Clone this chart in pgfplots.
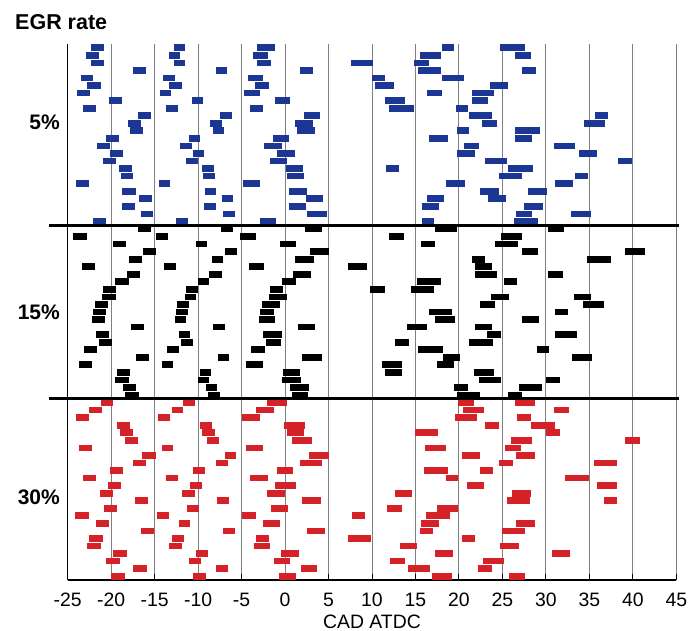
\documentclass[border=0pt]{standalone}
\usepackage{fontspec}
\setmainfont{Liberation Sans}
\usepackage{pgfplots}
\usepackage{pgfplotstable}
\pgfplotsset{compat=1.18}

\definecolor{egrblue}{RGB}{28,54,148}
\definecolor{egrred}{RGB}{212,34,40}
\definecolor{gridgray}{RGB}{128,128,128}

% Injection windows: row index y, start a and end b (CAD ATDC)
\pgfplotstableread{
y a b
71 -22.3 -20.8
71 -12.8 -11.5
71 -3.2 -1.2
71 18.1 19.4
71 24.7 27.6
70 -22.9 -21.4
70 -13.4 -12.05
70 -3.7 -2.0
70 15.5 17.9
70 26.5 28.3
69 -22.3 -20.8
69 -12.8 -11.5
69 -3.2 -1.6
69 7.6 10.1
69 14.85 16.5
68 -17.5 -16.0
68 -8.0 -6.7
68 1.7 3.2
68 15.3 17.95
68 27.3 28.9
67 -23.5 -22.05
67 -14.0 -12.7
67 -4.3 -2.5
67 10.0 11.5
67 18.1 20.6
66 -22.8 -21.2
66 -13.3 -11.9
66 -3.5 -1.8
66 10.4 12.5
66 23.6 25.6
65 -23.9 -22.4
65 -14.4 -13.1
65 -4.7 -2.9
65 16.3 18.1
65 21.5 24.0
64 -20.25 -18.75
64 -10.7 -9.4
64 -1.1 0.6
64 11.5 13.8
64 21.45 23.3
63 -23.2 -21.7
63 -13.7 -12.35
63 -4.0 -2.5
63 12.0 14.8
63 19.7 21.0
62 -16.95 -15.4
62 -7.45 -6.1
62 2.2 4.0
62 21.2 23.8
62 35.6 37.1
61 -18.1 -16.6
61 -8.6 -7.2
61 1.1 3.2
61 22.7 24.4
61 34.4 36.8
60 -17.8 -16.3
60 -8.3 -7.0
60 1.4 3.4
60 19.75 21.1
60 26.5 29.3
59 -20.55 -19.1
59 -11.05 -9.75
59 -1.4 0.4
59 16.5 18.7
59 26.5 28.4
58 -21.6 -20.1
58 -12.1 -10.75
58 -2.4 -0.4
58 20.6 22.25
58 30.9 33.4
57 -20.1 -18.6
57 -10.6 -9.3
57 -0.9 1.1
57 19.8 21.8
57 33.8 35.9
56 -20.9 -19.4
56 -11.4 -10.05
56 -1.7 0.2
56 23.05 25.5
56 38.3 39.95
55 -19.1 -17.6
55 -9.6 -8.2
55 0.1 2.05
55 11.6 13.05
55 25.7 28.5
54 -18.9 -17.45
54 -9.4 -8.1
54 0.25 2.2
54 24.55 27.3
54 33.4 34.8
53 -24.0 -22.5
53 -14.5 -13.2
53 -4.8 -2.85
53 18.5 20.7
53 31.1 33.1
52 -18.7 -17.2
52 -9.2 -7.9
52 0.5 2.55
52 22.4 24.55
52 27.9 30.1
51 -16.8 -15.3
51 -7.3 -6.0
51 2.4 4.4
51 16.3 18.3
51 23.3 25.4
50 -18.8 -17.3
50 -9.3 -8.0
50 0.4 2.4
50 15.8 17.7
50 27.5 29.7
49 -16.6 -15.15
49 -7.1 -5.8
49 2.55 4.8
49 26.6 28.4
49 32.9 35.2
48 -22.1 -20.55
48 -12.6 -11.2
48 -2.9 -1.05
48 15.7 17.15
48 26.3 29.1
}\egrfive

\pgfplotstableread{
y a b
47 -16.9 -15.4
47 -7.4 -6.0
47 2.3 4.2
47 17.3 19.8
47 30.3 32.1
46 -24.4 -22.8
46 -14.8 -13.5
46 -5.15 -3.3
46 11.9 13.7
46 24.85 27.3
45 -19.8 -18.3
45 -10.3 -9.0
45 -0.6 1.3
45 15.65 17.3
45 24.2 26.8
44 -16.3 -14.8
44 -6.9 -5.5
44 2.85 5.1
44 27.3 29.1
44 39.1 41.4
43 -18.0 -16.45
43 -8.45 -7.1
43 1.2 3.35
43 21.55 23.0
43 34.7 37.5
42 -23.4 -21.9
42 -13.9 -12.5
42 -4.2 -2.4
42 7.2 9.4
42 21.8 23.8
41 -18.2 -16.7
41 -8.7 -7.3
41 0.9 3.0
41 21.8 24.4
41 30.3 32.0
40 -19.6 -18.0
40 -10.05 -8.7
40 -0.36 1.3
40 15.15 17.9
40 25.2 26.7
39 -20.9 -19.4
39 -11.4 -10.05
39 -1.7 -0.2
39 9.8 11.5
39 14.5 17.1
38 -21.0 -19.5
38 -11.5 -10.2
38 -1.8 0.2
38 23.7 25.8
38 33.2 35.2
37 -21.9 -20.4
37 -12.4 -11.05
37 -2.7 -0.6
37 22.4 24.2
37 34.3 36.7
36 -22.1 -20.55
36 -12.6 -11.2
36 -2.9 -1.3
36 16.5 19.25
36 31.1 32.55
35 -22.2 -20.7
35 -12.7 -11.4
35 -3.0 -1.2
35 17.2 19.6
35 27.3 29.2
34 -17.7 -16.2
34 -8.25 -6.9
34 1.5 3.4
34 14.0 16.3
34 21.9 23.8
33 -21.7 -20.2
33 -12.2 -10.9
33 -2.5 -0.3
33 23.2 24.8
33 31.0 33.6
32 -21.4 -19.9
32 -12.0 -10.6
32 -2.2 -0.5
32 12.7 14.2
32 21.2 23.9
31 -23.1 -21.6
31 -13.6 -12.2
31 -3.9 -2.3
31 15.3 18.2
31 29.0 30.4
30 -17.2 -15.7
30 -7.7 -6.4
30 2.0 4.2
30 18.2 20.1
30 33.0 35.3
29 -23.7 -22.2
29 -14.2 -12.85
29 -4.5 -2.5
29 11.2 13.4
29 17.45 19.4
28 -19.3 -17.8
28 -9.8 -8.5
28 -0.2 1.7
28 11.5 13.4
28 21.75 24.05
27 -19.6 -18.0
27 -10.05 -8.7
27 -0.3 1.8
27 22.25 24.85
27 30.0 31.6
26 -18.6 -17.1
26 -9.1 -7.8
26 0.6 2.7
26 19.4 21.05
26 26.9 29.6
25 -18.4 -16.8
25 -8.9 -7.5
25 0.8 2.6
25 19.8 22.4
25 25.6 27.3
}\egrfifteen

\pgfplotstableread{
y a b
24 -21.2 -19.8
24 -11.7 -10.4
24 -2.1 0.2
24 19.9 21.7
24 26.4 28.8
23 -22.5 -21.0
23 -13.0 -11.7
23 -3.3 -1.3
23 20.5 22.9
23 30.95 32.7
22 -24.1 -22.5
22 -14.6 -13.2
22 -4.9 -2.85
22 19.5 22.1
22 26.65 28.3
21 -19.3 -17.8
21 -9.8 -8.4
21 -0.1 2.3
21 23.05 24.55
21 28.3 31.0
20 -19.0 -17.45
20 -9.5 -8.1
20 0.25 2.2
20 14.9 17.6
20 30.0 31.6
19 -18.45 -16.95
19 -9.0 -7.6
19 0.75 3.1
19 26.0 28.4
19 39.1 40.8
18 -23.7 -22.2
18 -14.2 -12.85
18 -4.5 -2.5
18 16.15 18.5
18 25.3 27.1
17 -16.45 -14.9
17 -6.95 -5.6
17 2.7 5.0
17 20.4 22.4
17 26.6 28.8
16 -17.5 -15.95
16 -8.0 -6.6
16 1.7 4.3
16 24.6 26.2
16 35.5 38.2
15 -20.1 -18.6
15 -10.6 -9.25
15 -0.9 0.9
15 16.0 18.7
15 22.4 23.9
14 -23.2 -21.7
14 -13.7 -12.35
14 -4.0 -1.95
14 18.5 19.9
14 32.2 35.0
13 -20.4 -18.9
13 -10.9 -9.5
13 -1.1 1.3
13 20.9 22.9
13 35.9 38.2
12 -21.3 -19.8
12 -11.8 -10.4
12 -2.1 0.0
12 12.6 14.6
12 26.1 28.3
11 -17.3 -15.8
11 -7.8 -6.4
11 1.9 4.1
11 25.5 28.15
11 36.65 38.2
10 -20.8 -19.3
10 -11.3 -9.9
10 -1.6 0.3
10 11.7 13.4
10 17.45 19.9
9 -24.2 -22.6
9 -14.7 -13.3
9 -5.0 -3.3
9 7.7 9.2
9 16.2 18.95
8 -21.7 -20.2
8 -12.2 -10.9
8 -2.5 -0.6
8 15.6 17.7
8 26.6 28.7
7 -16.6 -15.1
7 -7.1 -5.7
7 2.55 4.65
7 15.5 17.0
7 24.9 27.6
6 -22.5 -20.9
6 -13.0 -11.6
6 -3.3 -1.9
6 7.2 9.9
6 20.4 21.9
5 -22.8 -21.2
5 -13.3 -11.9
5 -3.6 -1.7
5 13.2 15.15
5 24.7 26.9
4 -19.75 -18.2
4 -10.25 -8.9
4 -0.5 1.55
4 17.2 19.3
4 30.75 32.8
3 -20.55 -19.0
3 -11.05 -9.7
3 -1.3 0.6
3 12.1 13.8
3 22.75 25.2
2 -17.45 -15.9
2 -7.95 -6.6
2 1.8 3.7
2 14.1 16.7
2 22.2 23.8
1 -20.05 -18.45
1 -10.55 -9.1
1 -0.75 1.25
1 16.9 19.2
1 25.7 27.6
}\egrthirty

% each window is drawn as a thick horizontal error bar around its midpoint
\pgfplotsset{
  window/.style={
    draw=none, mark=none, forget plot,
    error bars/.cd, x dir=both, x explicit, error mark=none,
    error bar style={draw=#1, line width=6.7bp, line cap=butt}
  }
}

\begin{document}
\begin{tikzpicture}
\begin{axis}[
  at={(0,0)}, anchor=south west,
  scale only axis, width=608.6bp, height=536bp,
  xmin=-25, xmax=45, ymin=0.5, ymax=71.5,
  axis x line*=bottom, axis y line*=left,
  x axis line style={line width=1.4bp},
  y axis line style={line width=0.9bp},
  xtick={-25,-20,...,45},
  /pgf/number format/assume math mode=true,
  xmajorgrids, grid style={gridgray, line width=0.9bp},
  tick align=inside, major tick length=6bp,
  x tick style={black, line width=1bp},
  xticklabel style={font=\fontsize{19.4bp}{22bp}\selectfont, anchor=base, inner sep=0pt, yshift=-26bp},
  xlabel={CAD ATDC},
  xlabel style={at={(rel axis cs:0.5,0)}, anchor=base, inner sep=0pt, yshift=-48bp, font=\fontsize{19.4bp}{22bp}\selectfont},
  ytick={11.49,35.98,61.15},
  yticklabels={30\%,15\%,5\%},
  y tick style={draw=none},
  yticklabel style={font=\bfseries\fontsize{21bp}{24bp}\selectfont, anchor=east, inner sep=0pt, xshift=-7.7bp},
  clip=false,
]
\addplot[window={egrblue}] table[x expr={(\thisrow{a}+\thisrow{b})/2}, y=y, x error expr={(\thisrow{b}-\thisrow{a})/2}] {\egrfive};
\addplot[window={black}] table[x expr={(\thisrow{a}+\thisrow{b})/2}, y=y, x error expr={(\thisrow{b}-\thisrow{a})/2}] {\egrfifteen};
\addplot[window={egrred}] table[x expr={(\thisrow{a}+\thisrow{b})/2}, y=y, x error expr={(\thisrow{b}-\thisrow{a})/2}] {\egrthirty};
% band separators
\draw[line width=2.7bp] (axis cs:-27.15,47.5) -- (axis cs:45.3,47.5);
\draw[line width=2.7bp] (axis cs:-27.15,24.5) -- (axis cs:45.3,24.5);
\end{axis}
\node[anchor=base west, inner sep=0pt, font=\bfseries\fontsize{21.5bp}{24bp}\selectfont] at (-52.7bp,550bp) {EGR rate};
\pgfresetboundingbox
\path[use as bounding box] (-67.7bp,-51bp) rectangle (631.3bp,580bp);
\end{tikzpicture}
\end{document}
